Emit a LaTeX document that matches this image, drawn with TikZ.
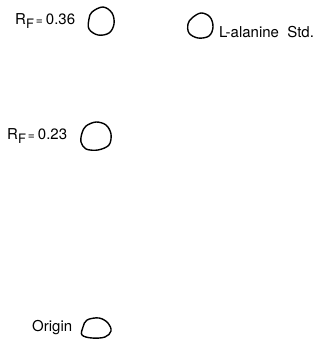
\documentclass[tikz,border=0pt]{standalone}
\usepackage{fontspec}
\setsansfont{TeX Gyre Heros}
\usetikzlibrary{positioning}
\tikzset{
  lbl/.style={font=\sffamily\fontsize{15}{17}\selectfont,inner sep=0pt},
  spot/.style={line width=1.4pt,line join=round}
}
\newcommand{\rfval}[1]{R\raisebox{-0.45ex}{\fontsize{13}{14}\selectfont F}\kern2pt{\fontsize{12}{14}\selectfont=}\kern3pt#1}

\begin{document}
\begin{tikzpicture}[x=1pt,y=-1pt]
\useasboundingbox (0,0) rectangle (322,339);
% spots
\coordinate (spotA) at (101,21);
\coordinate (spotStd) at (200,26);
\coordinate (spotB) at (96,136);
\coordinate (spotO) at (96,328);
\draw[spot,shift={(spotA)}] plot[smooth cycle,tension=0.6] coordinates {(-9,-9) (2,-14) (11,-8) (13,3) (8,12) (-3,14) (-12,8) (-12,-2)};
\draw[spot,shift={(spotStd)}] plot[smooth cycle,tension=0.6] coordinates {(-8,-8) (1,-13) (10,-9) (13,1) (9,10) (-2,12) (-11,7) (-12,-2)};
\draw[spot,shift={(spotB)}] plot[smooth cycle,tension=0.55] coordinates {(-10,-10) (0,-14) (10,-11) (15,-2) (13,9) (2,14) (-10,13) (-15,6) (-14,-3)};
\draw[spot,shift={(spotO)}] plot[smooth cycle,tension=0.6] coordinates {(-9,-8) (3,-10) (12,-5) (15,3) (9,9) (-4,10) (-14,7) (-13,-1)};
% labels
\node[lbl,anchor=west] (rfA) at (15,21) {\rfval{0.36}};
\node[lbl,anchor=west] (rfB) at (7,136) {\rfval{0.23}};
\node[lbl,anchor=west] (std) at (219,32) {L-alanine\ \ Std.};
\node[lbl,anchor=west] (origin) at (32,328) {Origin};
\end{tikzpicture}
\end{document}
